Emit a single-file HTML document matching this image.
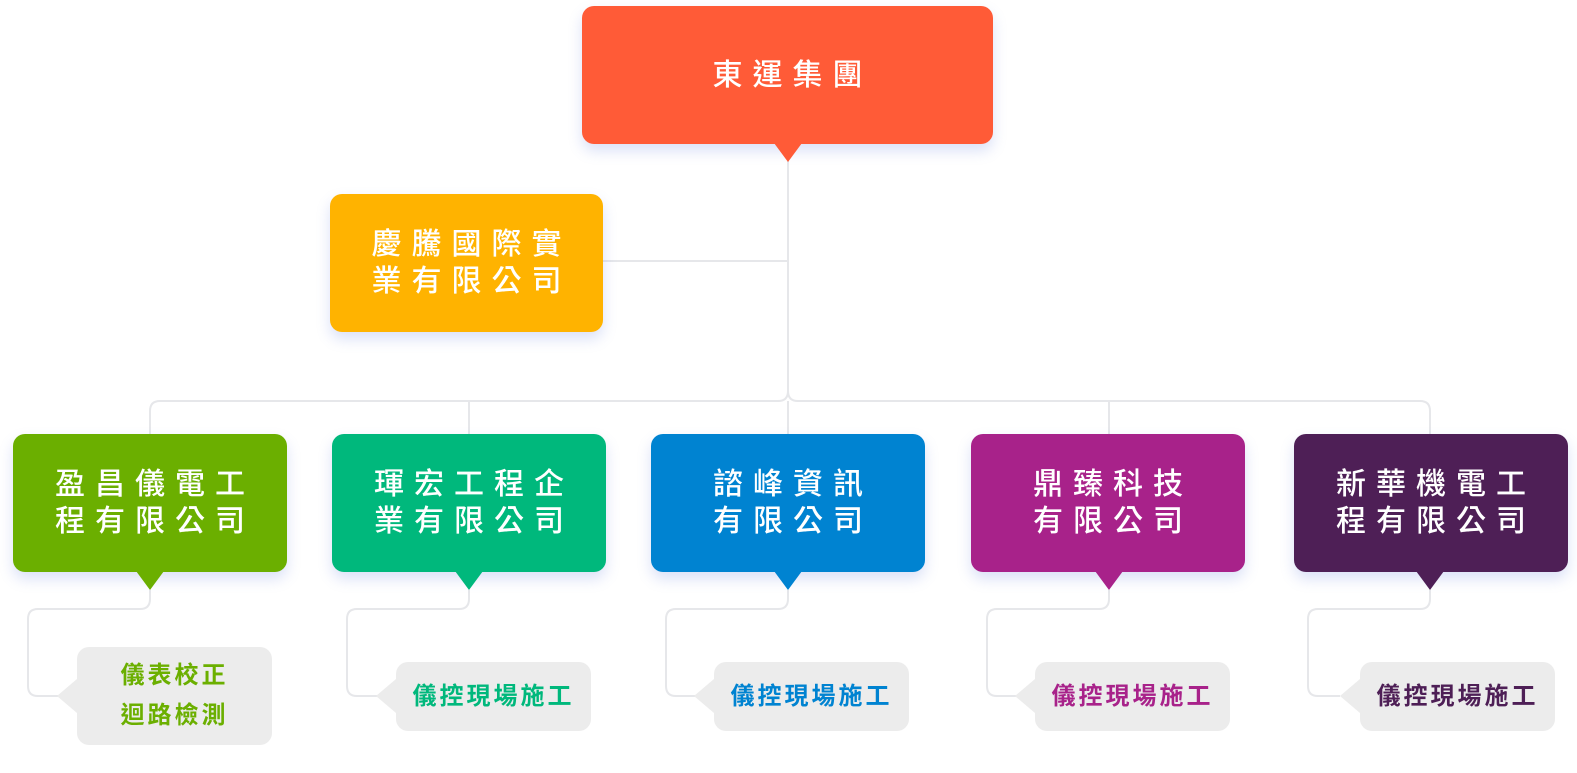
<!DOCTYPE html>
<html><head><meta charset="utf-8"><style>
body{margin:0;width:1577px;height:773px;background:#fff;position:relative;overflow:hidden;font-family:"Liberation Sans","Noto Sans CJK TC",sans-serif}
.b{position:absolute;border-radius:12px;color:#fff;display:flex;align-items:center;justify-content:center;text-align:center;font-size:30px;line-height:37px;letter-spacing:10px;font-weight:500;box-shadow:0 7px 14px rgba(90,120,220,0.22)}
.b span{margin-right:-10px}
.t{position:absolute;width:0;height:0;border-left:14px solid transparent;border-right:14px solid transparent;border-top:19px solid}
.g{position:absolute;background:#ececec;border-radius:12px;display:flex;align-items:center;justify-content:center;text-align:center;font-weight:bold;font-size:24px;line-height:40px;letter-spacing:3px}
.p{position:absolute;width:0;height:0;border-top:17px solid transparent;border-bottom:17px solid transparent;border-right:20px solid #ececec}
svg{position:absolute;left:0;top:0}
</style></head><body>
<svg width="1577" height="773" fill="none" stroke="#e6e7ea" stroke-width="2">
<path d="M788 160 V391 Q788 401 778 401 H160 Q150 401 150 411 V434"/>
<path d="M788 391 Q788 401 798 401 H1420 Q1430 401 1430 411 V434"/>
<path d="M469 401 V434 M788 401 V434 M1109 401 V434 M603 261 H788"/>
<path d="M150 590 V599 Q150 609 140 609 H38 Q28 609 28 619 V686 Q28 696 38 696 H60"/>
<path d="M469 590 V599 Q469 609 459 609 H357 Q347 609 347 619 V686 Q347 696 357 696 H379"/>
<path d="M788 590 V599 Q788 609 778 609 H676 Q666 609 666 619 V686 Q666 696 676 696 H698"/>
<path d="M1109 590 V599 Q1109 609 1099 609 H997 Q987 609 987 619 V686 Q987 696 997 696 H1019"/>
<path d="M1430 590 V599 Q1430 609 1420 609 H1318 Q1308 609 1308 619 V686 Q1308 696 1318 696 H1340"/>
</svg>

<div class="b" style="left:582px;top:6px;width:411px;height:138px;background:#FF5B37"><span>東運集團</span></div>
<div class="t" style="left:774px;top:143px;border-top-color:#FF5B37"></div>

<div class="b" style="left:330px;top:194px;width:273px;height:138px;background:#FFB300"><span>慶騰國際實<br>業有限公司</span></div>

<div class="b" style="left:13px;top:434px;width:274px;height:138px;background:#6BAF00"><span>盈昌儀電工<br>程有限公司</span></div>
<div class="t" style="left:136px;top:571px;border-top-color:#6BAF00"></div>
<div class="b" style="left:332px;top:434px;width:274px;height:138px;background:#00B87C"><span>琿宏工程企<br>業有限公司</span></div>
<div class="t" style="left:455px;top:571px;border-top-color:#00B87C"></div>
<div class="b" style="left:651px;top:434px;width:274px;height:138px;background:#0083D1"><span>諮峰資訊<br>有限公司</span></div>
<div class="t" style="left:774px;top:571px;border-top-color:#0083D1"></div>
<div class="b" style="left:971px;top:434px;width:274px;height:138px;background:#A8228A"><span>鼎臻科技<br>有限公司</span></div>
<div class="t" style="left:1095px;top:571px;border-top-color:#A8228A"></div>
<div class="b" style="left:1294px;top:434px;width:274px;height:138px;background:#4E1F56"><span>新華機電工<br>程有限公司</span></div>
<div class="t" style="left:1416px;top:571px;border-top-color:#4E1F56"></div>

<div class="g" style="left:77px;top:647px;width:195px;height:98px;color:#6BAF00">儀表校正<br>迴路檢測</div>
<div class="p" style="left:57px;top:679px"></div>
<div class="g" style="left:396px;top:662px;width:195px;height:69px;color:#00B87C">儀控現場施工</div>
<div class="p" style="left:376px;top:679px"></div>
<div class="g" style="left:714px;top:662px;width:195px;height:69px;color:#0083D1">儀控現場施工</div>
<div class="p" style="left:694px;top:679px"></div>
<div class="g" style="left:1035px;top:662px;width:195px;height:69px;color:#A8228A">儀控現場施工</div>
<div class="p" style="left:1015px;top:679px"></div>
<div class="g" style="left:1360px;top:662px;width:195px;height:69px;color:#4E1F56">儀控現場施工</div>
<div class="p" style="left:1340px;top:679px"></div>
</body></html>
